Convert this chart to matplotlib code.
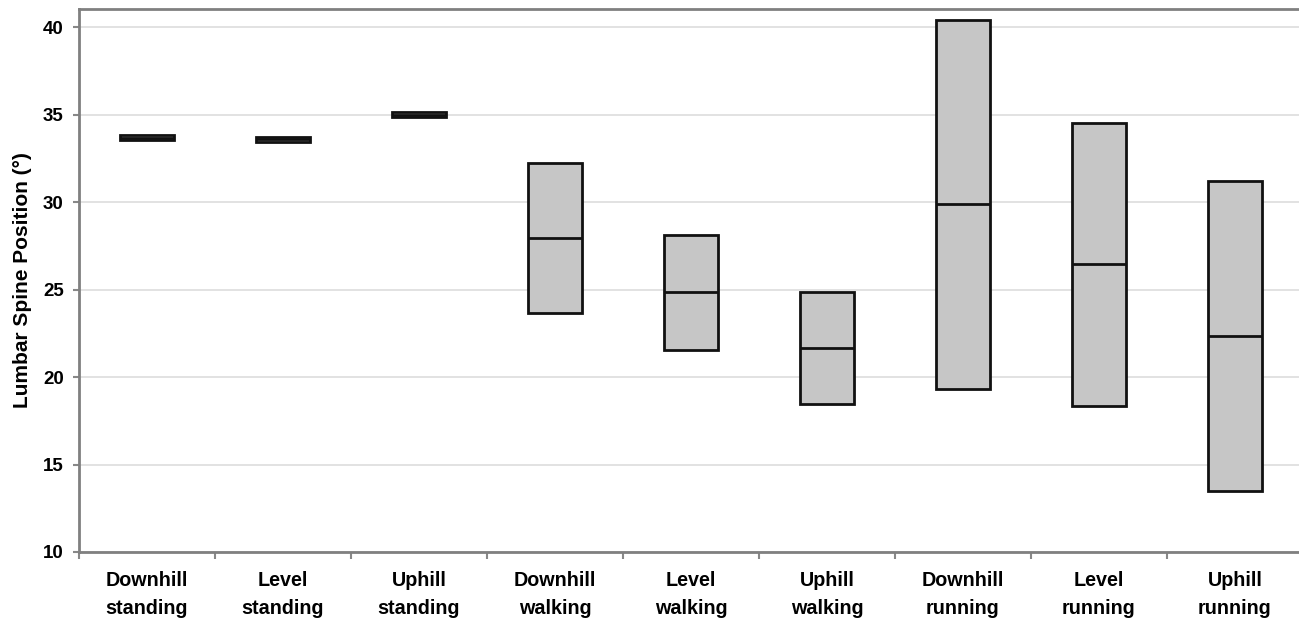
import matplotlib
matplotlib.use("Agg")
import matplotlib.pyplot as plt
import numpy as np

plt.rcParams['font.family'] = ['Liberation Sans', 'DejaVu Sans']

categories = ["Downhill\nstanding", "Level\nstanding", "Uphill\nstanding",
              "Downhill\nwalking", "Level\nwalking", "Uphill\nwalking",
              "Downhill\nrunning", "Level\nrunning", "Uphill\nrunning"]
low = [33.55, 33.45, 34.85, 23.64, 21.54, 18.46, 19.33, 18.34, 13.47]
median = [33.7, 33.6, 35.0, 27.96, 24.84, 21.66, 29.89, 26.46, 22.34]
high = [33.85, 33.75, 35.15, 32.27, 28.1, 24.86, 40.4, 34.55, 31.24]
yticks = [10, 15, 20, 25, 30, 35, 40]

fig = plt.figure(figsize=(12.99, 6.2), dpi=100)
ax = fig.add_axes([79/1299, 1-552/620, 1.003-79/1299, (552-9)/620])

x = np.arange(len(categories))
w = 0.40
heights = [h - l for h, l in zip(high, low)]
ax.bar(x, heights, bottom=low, width=w, color='#c6c6c6', edgecolor='#111111',
       linewidth=2, zorder=3)
ax.hlines(median, x - w/2, x + w/2, colors='#111111', linewidth=2, zorder=4)

ax.set_ylim(10, 41.05)
ax.set_xlim(-0.5, 8.5)
ax.set_yticks(yticks)
ax.set_yticklabels([str(t) for t in yticks], fontsize=13.5, fontweight='bold')
ax.set_xticks(x)
ax.set_xticklabels(categories, fontsize=14.2, fontweight='bold', linespacing=1.55)
ax.tick_params(axis='x', length=0, pad=14)
ax.set_xticks(np.arange(-0.5, 9.0, 1.0), minor=True)
ax.tick_params(axis='x', which='minor', length=5, width=1.5, color='#888888')
ax.tick_params(axis='y', length=4, width=1.5, color='#888888', pad=7)

ax.grid(axis='y', color='#dddddd', linewidth=1.2, zorder=0)
ax.set_axisbelow(True)
for s in ax.spines.values():
    s.set_color('#808080')
    s.set_linewidth(2)

ax.set_ylabel("Lumbar Spine Position (°)", fontsize=15, fontweight='bold', labelpad=8)

fig.savefig("out.png", dpi=100)
